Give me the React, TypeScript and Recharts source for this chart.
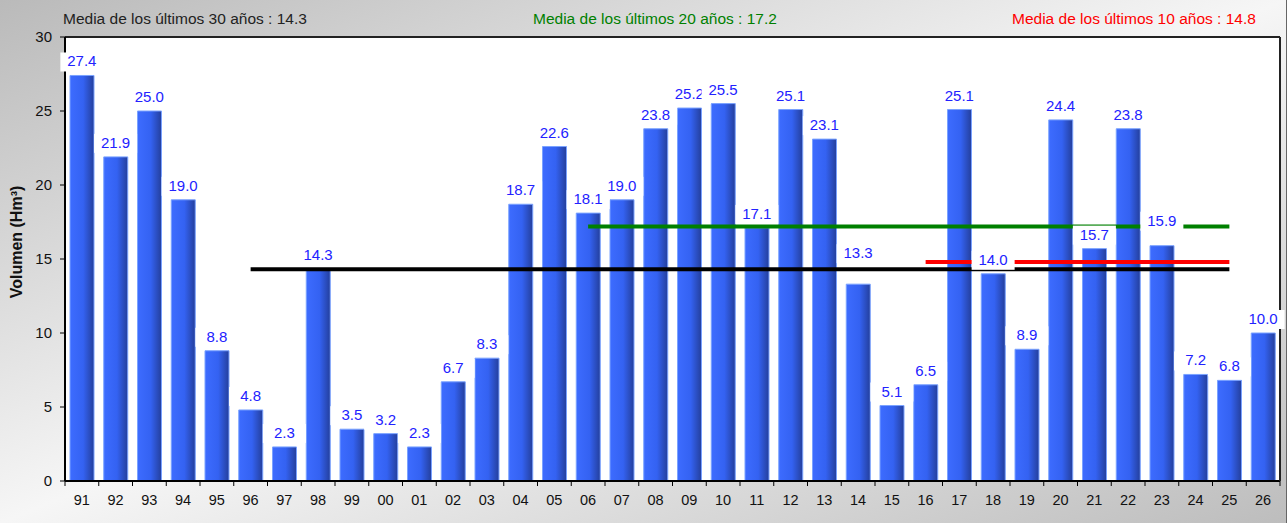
import React from 'react';
import {
  ComposedChart,
  Bar,
  Line,
  XAxis,
  YAxis,
  CartesianGrid,
  ReferenceLine,
  LabelList,
} from 'recharts';

const years = ['91','92','93','94','95','96','97','98','99','00','01','02','03','04','05','06','07','08','09','10','11','12','13','14','15','16','17','18','19','20','21','22','23','24','25','26'];
const volumes = [27.4,21.9,25.0,19.0,8.8,4.8,2.3,14.3,3.5,3.2,2.3,6.7,8.3,18.7,22.6,18.1,19.0,23.8,25.2,25.5,17.1,25.1,23.1,13.3,5.1,6.5,25.1,14.0,8.9,24.4,15.7,23.8,15.9,7.2,6.8,10.0];
const yTicks = [0, 5, 10, 15, 20, 25, 30];

const mean30 = 14.3;
const mean20 = 17.2;
const mean10 = 14.8;
const mean30Range = ['96', '25'];
const mean20Range = ['06', '25'];
const mean10Range = ['16', '25'];

// extra upward shift of a few labels (style only), as in the original
const labelLift: Record<string, number> = { '14': 17, '23': 11 };

const inRange = (i: number, r: string[]) => i >= years.indexOf(r[0]) && i <= years.indexOf(r[1]);

const data = years.map((y, i) => ({
  year: y,
  v: volumes[i],
  m30: inRange(i, mean30Range) ? mean30 : null,
  m20: inRange(i, mean20Range) ? mean20 : null,
  m10: inRange(i, mean10Range) ? mean10 : null,
}));

const W = 1287;
const H = 523;
const LEFT = 65;
const RIGHT_W = 7;
const PLOT_W = W - LEFT - RIGHT_W;
const FONT = '"Liberation Sans", Arial, sans-serif';

const XTick = (props: any) => {
  const { x, y, payload, index } = props;
  const step = PLOT_W / years.length;
  return (
    <g>
      <line x1={x - step / 2} x2={x - step / 2} y1={y} y2={y + 5} stroke="#000" strokeWidth={1} />
      {index === years.length - 1 && (
        <line x1={x + step / 2} x2={x + step / 2} y1={y} y2={y + 5} stroke="#000" strokeWidth={1} />
      )}
      <text x={x} y={y + 24} textAnchor="middle" fontSize={14.5} fill="#111" fontFamily={FONT}>
        {payload.value}
      </text>
    </g>
  );
};

const ValueLabel = (props: any) => {
  const { x, y, value, index } = props;
  if (x == null || y == null) return null;
  const lift = labelLift[years[index]] || 0;
  const yy = y - lift;
  return (
    <g>
      <rect x={x - 21.5} y={yy - 23} width={43} height={19} fill="#fff" />
      <text x={x} y={yy - 9} textAnchor="middle" fontSize={15} fill="#2222ff" fontFamily={FONT}>
        {Number(value).toFixed(1)}
      </text>
    </g>
  );
};

export default function App() {
  return (
    <div
      style={{
        position: 'absolute',
        left: 0,
        top: 0,
        width: W,
        height: H,
        background: 'linear-gradient(to bottom right, #bababa 0%, #f6f6f6 50%, #bdbdbd 100%)',
        fontFamily: FONT,
        boxSizing: 'border-box',
        borderRight: '1px solid #666',
      }}
    >
      <div style={{ position: 'absolute', left: 63, top: 10, fontSize: 15.5, color: '#222', whiteSpace: 'nowrap' }}>
        Media de los últimos 30 años : 14.3
      </div>
      <div style={{ position: 'absolute', left: 533, top: 10, fontSize: 15.5, color: '#008000', whiteSpace: 'nowrap' }}>
        Media de los últimos 20 años : 17.2
      </div>
      <div style={{ position: 'absolute', left: 1012, top: 10, fontSize: 15.5, color: '#ff0000', whiteSpace: 'nowrap' }}>
        Media de los últimos 10 años : 14.8
      </div>
      <div
        style={{
          position: 'absolute',
          left: 17,
          top: 242,
          transform: 'translate(-50%, -50%) rotate(-90deg)',
          fontSize: 16,
          fontWeight: 'bold',
          color: '#111',
          whiteSpace: 'nowrap',
        }}
      >
        Volumen (Hm³)
      </div>
      <div style={{ position: 'absolute', left: 0, top: 0 }}>
        <ComposedChart width={W} height={H} data={data} margin={{ top: 37, right: 0, bottom: 0, left: 0 }}>
          <defs>
            <linearGradient id="barGrad" x1="0" y1="0" x2="1" y2="0">
              <stop offset="0%" stopColor="#3d6cff" />
              <stop offset="55%" stopColor="#3462f2" />
              <stop offset="100%" stopColor="#243f9c" />
            </linearGradient>
          </defs>
          <rect x={LEFT} y={37} width={PLOT_W} height={444} fill="#fff" />
          <CartesianGrid vertical={false} stroke="#333" strokeDasharray="1 1" />
          <XAxis
            dataKey="year"
            height={42}
            interval={0}
            tickLine={false}
            tickSize={0}
            tickMargin={0}
            tick={<XTick />}
            axisLine={{ stroke: '#000', strokeWidth: 2 }}
          />
          <YAxis
            width={LEFT}
            domain={[0, 30]}
            ticks={yTicks}
            interval={0}
            tickSize={5}
            tickMargin={8}
            tickLine={{ stroke: '#000' }}
            axisLine={{ stroke: '#000', strokeWidth: 2 }}
            tick={{ fontSize: 15, fill: '#111', fontFamily: FONT }}
          />
          <YAxis
            yAxisId="right"
            orientation="right"
            width={RIGHT_W}
            domain={[0, 30]}
            tick={false}
            tickLine={false}
            axisLine={{ stroke: '#222', strokeWidth: 2 }}
          />
          <ReferenceLine y={30} stroke="#222" strokeWidth={2} />
          <Bar dataKey="v" barSize={24} fill="url(#barGrad)" stroke="#7aa2ff" strokeWidth={1} isAnimationActive={false} />
          <Line dataKey="m30" stroke="#000" strokeWidth={4} dot={false} activeDot={false} connectNulls={false} isAnimationActive={false} />
          <Line dataKey="m20" stroke="#008000" strokeWidth={4} dot={false} activeDot={false} connectNulls={false} isAnimationActive={false} />
          <Line dataKey="m10" stroke="#ff0000" strokeWidth={4} dot={false} activeDot={false} connectNulls={false} isAnimationActive={false} />
          <Line dataKey="v" stroke="none" strokeWidth={0} dot={false} activeDot={false} isAnimationActive={false}>
            <LabelList dataKey="v" content={<ValueLabel />} />
          </Line>
        </ComposedChart>
      </div>
    </div>
  );
}
